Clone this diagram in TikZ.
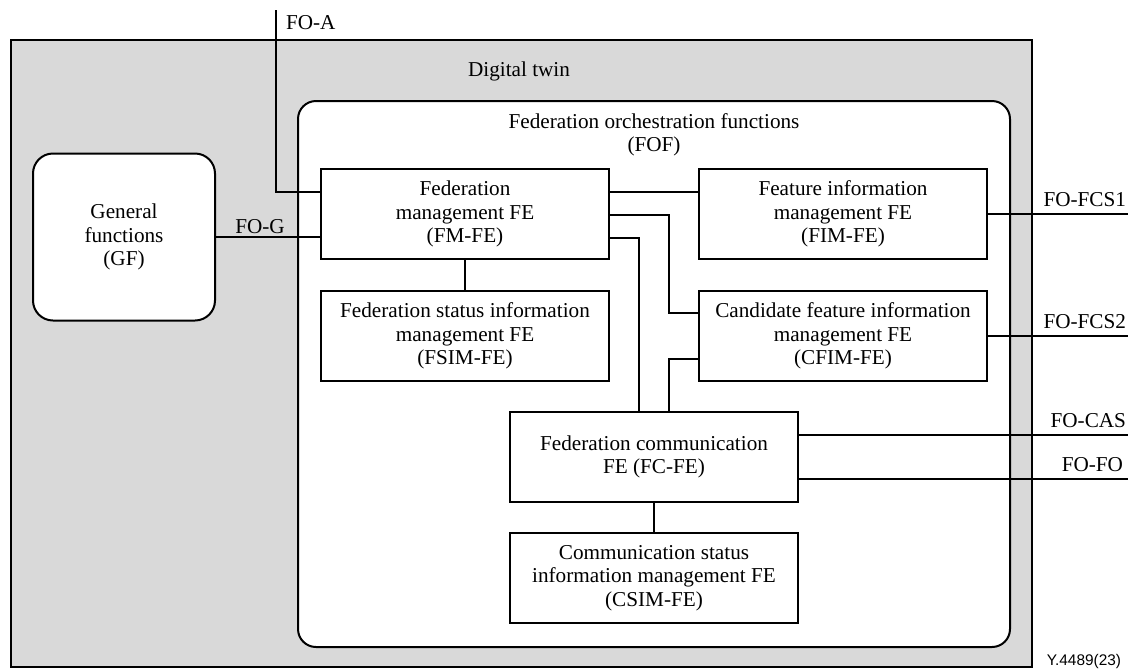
\documentclass[tikz,border=0pt]{standalone}
\usepackage{fontspec}
\setmainfont{Liberation Serif}
\newfontfamily\figsans{Liberation Sans}
\definecolor{dtgray}{HTML}{D9D9D9}
\tikzset{
  every picture/.style={line width=1pt},
  boxtxt/.style={font=\fontsize{10.6}{11.75}\selectfont, align=center},
  febox/.style={boxtxt, draw, fill=white, inner sep=0pt, outer sep=0pt, minimum width=144pt, minimum height=45pt},
  conn/.style={draw, line width=1pt},
  lbl/.style={font=\fontsize{10.6}{11.75}\selectfont, inner sep=0pt}
}
\begin{document}
\begin{tikzpicture}[x=0.5pt, y=-0.5pt]
\useasboundingbox (0,0) rectangle (1128,670);
% outer digital twin
\node[draw, fill=dtgray, inner sep=0pt, outer sep=0pt, minimum width=510.5pt, minimum height=313.5pt] (dt) at (521.5,353.5) {};
\node[lbl] (dtl) at (519,71) {Digital twin};
% FOF
\node[draw, fill=white, rounded corners=9pt, inner sep=0pt, outer sep=0pt, minimum width=356pt, minimum height=273pt] (fof) at (654,374) {};
\node[lbl, boxtxt] (fofl) at (654,135) {Federation orchestration functions\\(FOF)};
% GF
\node[boxtxt, draw, fill=white, rounded corners=10pt, inner sep=0pt, outer sep=0pt, minimum width=91pt, minimum height=83.5pt] (gf) at (124,237) {General\\functions\\(GF)};
% FEs
\node[febox] (fm) at (465,214) {Federation\\management FE\\(FM-FE)};
\node[febox] (fim) at (843,214) {Feature information\\management FE\\(FIM-FE)};
\node[febox] (fsim) at (465,336) {Federation status information\\management FE\\(FSIM-FE)};
\node[febox] (cfim) at (843,336) {Candidate feature information\\management FE\\(CFIM-FE)};
\node[febox] (fc) at (654,457) {Federation communication\\FE (FC-FE)};
\node[febox] (csim) at (654,578) {Communication status\\information management FE\\(CSIM-FE)};
% free ends
\coordinate (foa) at (276,10);
\coordinate (fcs1) at (1128,214);
\coordinate (fcs2) at (1128,336);
\coordinate (cas) at (1128,435);
\coordinate (fofo) at (1128,479);
% connectors
\draw[conn] (foa) |- ([yshift=11pt]fm.west);
\draw[conn] (gf.east) -- (gf.east -| fm.west);
\draw[conn] ([yshift=11pt]fm.east) -- ([yshift=11pt]fm.east -| fim.west);
\draw[conn] ([yshift=-0.5pt]fm.east) -- ++(30pt,0) |- ([yshift=11.5pt]cfim.west);
\draw[conn] ([yshift=-12pt]fm.east) -| ([xshift=-7.5pt]fc.north);
\draw[conn] ([yshift=-11.5pt]cfim.west) -| ([xshift=7.5pt]fc.north);
\draw[conn] (fm.south) -- (fm.south |- fsim.north);
\draw[conn] (fc.south) -- (csim.north);
\draw[conn] (fim.east) -- (fcs1);
\draw[conn] (cfim.east) -- (fcs2);
\draw[conn] ([yshift=11pt]fc.east) -- (cas);
\draw[conn] ([yshift=-11pt]fc.east) -- (fofo);
% labels
\node[lbl, anchor=base west] (foal) at (285,29) {FO-A};
\node[lbl, anchor=base] (fogl) at (260,233) {FO-G};
\node[lbl, anchor=base east] (fcs1l) at (1127,206) {FO-FCS1};
\node[lbl, anchor=base east] (fcs2l) at (1127,328) {FO-FCS2};
\node[lbl, anchor=base east] (casl) at (1127,427) {FO-CAS};
\node[lbl, anchor=base east] (fofol) at (1124,471) {FO-FO};
\node[font=\figsans\fontsize{7.7}{9}\selectfont, inner sep=0pt, anchor=base east] (fig) at (1122,665) {Y.4489(23)};
\end{tikzpicture}
\end{document}
